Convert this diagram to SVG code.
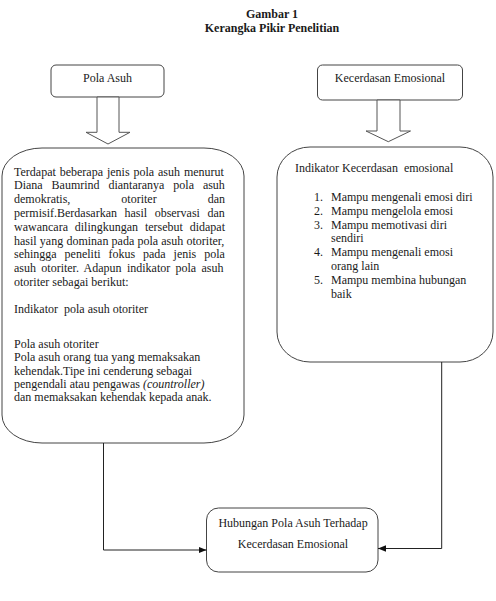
<svg xmlns="http://www.w3.org/2000/svg" width="496" height="601" viewBox="0 0 496 601">
<style>
text{font-family:"Liberation Serif","Times New Roman",serif;font-size:12px;fill:#1a1a1a}
.t{font-weight:bold;text-anchor:middle}
.c{text-anchor:middle}
.i{font-family:"Liberation Serif","DejaVu Serif",serif;font-style:italic}
.box{fill:#fff;stroke:#444;stroke-width:1}
.blk{fill:#fff;stroke:#555;stroke-width:1}
.con{fill:none;stroke:#222;stroke-width:1}
</style>
<defs>
<marker id="ah" viewBox="0 0 8 8" refX="8" refY="4" markerWidth="8" markerHeight="8" markerUnits="userSpaceOnUse" orient="auto">
<path d="M0,0.8 L8,4 L0,7.2 Z" fill="#111"/>
</marker>
</defs>
<rect width="496" height="601" fill="#fff"/>
<g id="title">
<text class="t" x="272" y="18">Gambar 1</text>
<text class="t" x="272" y="31.5">Kerangka Pikir Penelitian</text>
</g>
<g id="pola-asuh">
<rect class="box" x="51" y="65" width="113" height="32" rx="5"/>
<text class="c" x="107.5" y="81.5">Pola Asuh</text>
</g>
<g id="kecerdasan-emosional">
<rect class="box" x="317.5" y="65" width="145" height="35" rx="5"/>
<text class="c" x="390" y="81.5">Kecerdasan Emosional</text>
</g>
<g id="arrow-left">
<path class="blk" d="M97,97 H119 V132.3 H130 L108,144 L86,132.3 H97 Z"/>
</g>
<g id="arrow-right">
<path class="blk" d="M377,100 H400 V131 H410.5 L388.3,141.7 L366,131 H377 Z"/>
</g>
<g id="pola-asuh-detail">
<path class="box" d="M42,148 H204 A40 28 0 0 1 244,176 V415 A40 28 0 0 1 204,443 H42 A40 28 0 0 1 2,415 V176 A40 28 0 0 1 42,148 Z"/>
<text x="14" y="175.5" word-spacing="0.9">Terdapat beberapa jenis pola asuh menurut</text>
<text x="14" y="189.3" word-spacing="5.9">Diana Baumrind diantaranya pola asuh</text>
<text x="14" y="203.1" word-spacing="48">demokratis, otoriter dan</text>
<text x="14" y="216.9" word-spacing="4.5">permisif.Berdasarkan hasil observasi dan</text>
<text x="14" y="230.7" word-spacing="3.8">wawancara dilingkungan tersebut didapat</text>
<text x="14" y="244.5" word-spacing="0.2">hasil yang dominan pada pola asuh otoriter,</text>
<text x="14" y="258.3" word-spacing="4.9">sehingga peneliti fokus pada jenis pola</text>
<text x="14" y="272.1" word-spacing="2.3">asuh otoriter. Adapun indikator pola asuh</text>
<text x="14" y="285.9">otoriter sebagai berikut:</text>
<text x="14" y="312.5" xml:space="preserve">Indikator  pola asuh otoriter</text>
<text x="14" y="348">Pola asuh otoriter</text>
<text x="14" y="361.3">Pola asuh orang tua yang memaksakan</text>
<text x="14" y="374.5">kehendak.Tipe ini cenderung sebagai</text>
<text x="14" y="387.8">pengendali atau pengawas <tspan class="i">(countroller)</tspan></text>
<text x="14" y="401">dan memaksakan kehendak kepada anak.</text>
</g>
<g id="kecerdasan-detail">
<path class="box" d="M310,147 H460 A33 30 0 0 1 493,177 V332 A33 30 0 0 1 460,362 H310 A33 30 0 0 1 277,332 V177 A33 30 0 0 1 310,147 Z"/>
<text x="295" y="172" xml:space="preserve">Indikator Kecerdasan  emosional</text>
<text x="314" y="201">1.</text><text x="331" y="201">Mampu mengenali emosi diri</text>
<text x="314" y="214.8">2.</text><text x="331" y="214.8">Mampu mengelola emosi</text>
<text x="314" y="228.6">3.</text><text x="331" y="228.6">Mampu memotivasi diri</text>
<text x="331" y="242.4">sendiri</text>
<text x="314" y="256.2">4.</text><text x="331" y="256.2">Mampu mengenali emosi</text>
<text x="331" y="270">orang lain</text>
<text x="314" y="283.8">5.</text><text x="331" y="283.8">Mampu membina hubungan</text>
<text x="331" y="297.6">baik</text>
</g>
<g id="hubungan">
<rect class="box" x="206.5" y="508" width="171.5" height="64" rx="12"/>
<text class="c" x="293" y="527">Hubungan Pola Asuh Terhadap</text>
<text class="c" x="293" y="547.5">Kecerdasan Emosional</text>
</g>
<g id="connectors">
<polyline class="con" points="103.5,443 103.5,550 206.5,550" marker-end="url(#ah)"/>
<polyline class="con" points="441.7,362 441.7,548.5 378,548.5" marker-end="url(#ah)"/>
</g>
</svg>
